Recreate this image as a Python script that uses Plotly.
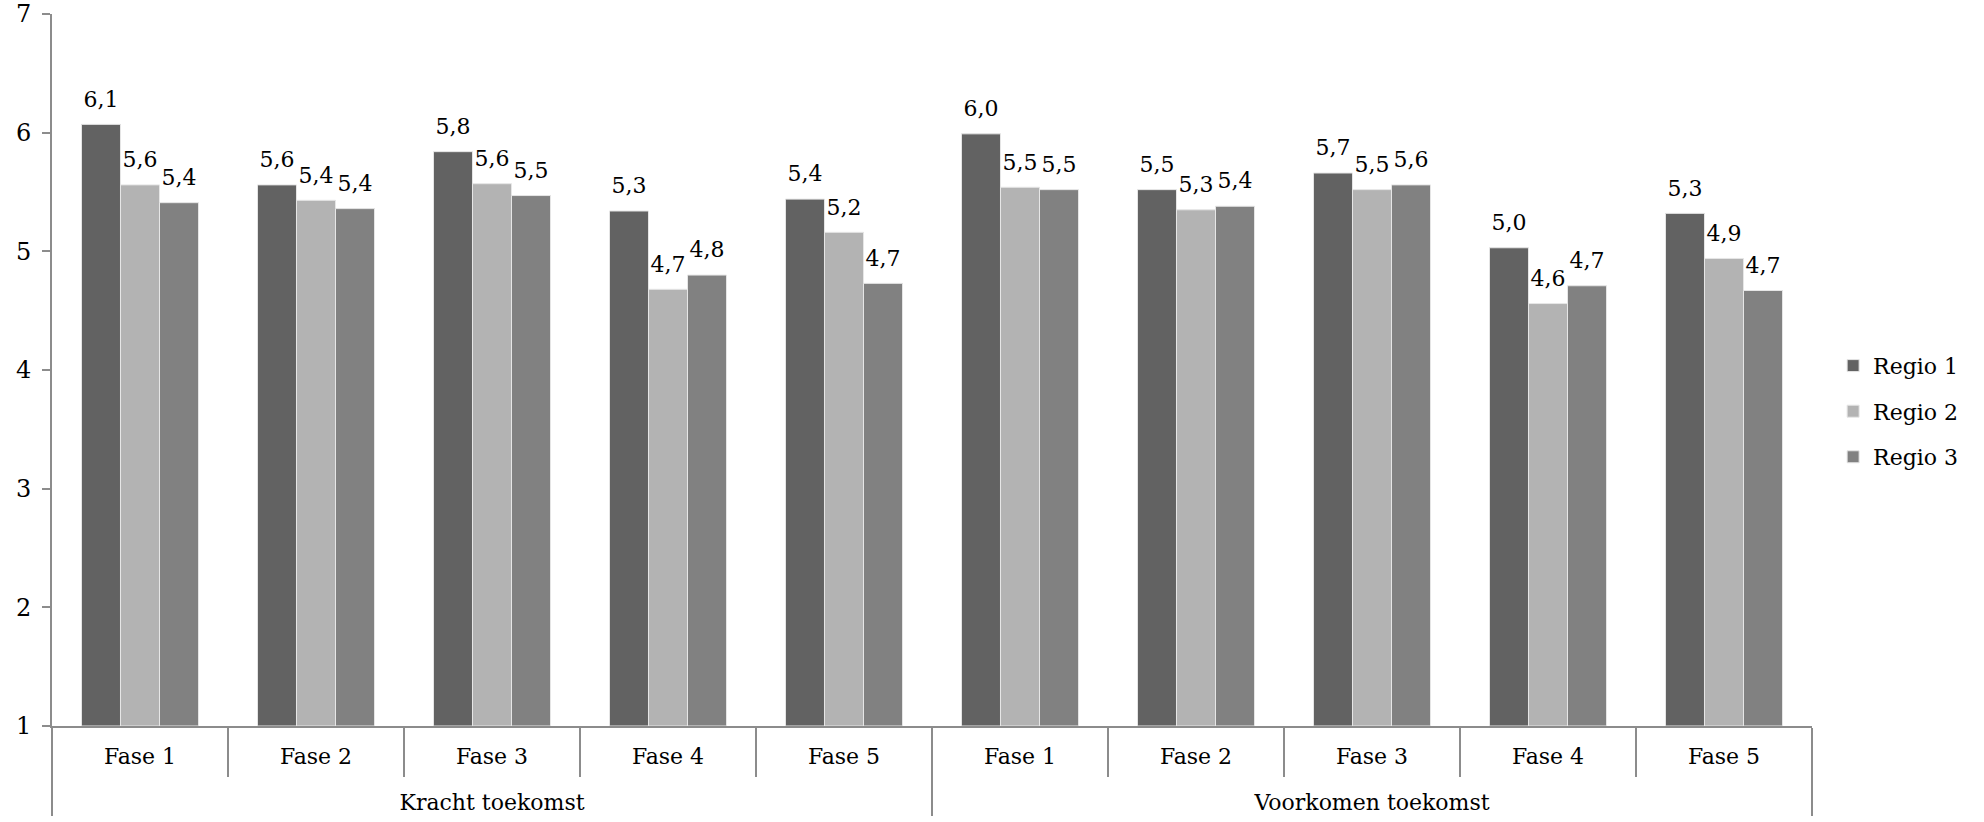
import plotly.graph_objects as go

groups = ["Kracht toekomst"] * 5 + ["Voorkomen toekomst"] * 5
phases = ["Fase 1", "Fase 2", "Fase 3", "Fase 4", "Fase 5"] * 2

regio1 = [6.07, 5.56, 5.84, 5.34, 5.44, 5.99, 5.52, 5.66, 5.03, 5.32]
regio2 = [5.56, 5.43, 5.57, 4.68, 5.16, 5.54, 5.35, 5.52, 4.56, 4.94]
regio3 = [5.41, 5.36, 5.47, 4.80, 4.73, 5.52, 5.38, 5.56, 4.71, 4.67]

series = [("Regio 1", regio1, "#626262"), ("Regio 2", regio2, "#b3b3b3"), ("Regio 3", regio3, "#818181")]

FONT = "DejaVu Serif"

# second-level labels sit one blank line lower, as in the reference
group_labels = ["<br>" + g for g in groups]

fig = go.Figure()
for i, (name, vals, col) in enumerate(series):
    fig.add_trace(go.Bar(
        x=[group_labels, phases], y=[v - 1 for v in vals], base=1, name=name,
        legendgroup=name, offsetgroup=str(i),
        marker=dict(color=col, line=dict(color="#e6e6e6", width=1)),
        hoverinfo="skip",
    ))
for i, (name, vals, col) in enumerate(series):
    fig.add_trace(go.Scatter(
        x=[group_labels, phases], y=vals, mode="markers+text",
        offsetgroup=str(i), showlegend=False, legendgroup=name,
        marker=dict(size=18, color="rgba(0,0,0,0)"),
        text=[f"{v:.1f}".replace(".", ",") for v in vals],
        textposition="top center", cliponaxis=False,
        textfont=dict(family=FONT, size=22, color="black"),
        hoverinfo="skip",
    ))

fig.update_layout(
    width=1984, height=822,
    margin=dict(l=52, r=172, t=14, b=96, autoexpand=False),
    barmode="group", bargap=0.335, bargroupgap=0,
    scattermode="group", scattergap=0.335,
    plot_bgcolor="white", paper_bgcolor="white",
    font=dict(family=FONT, size=22, color="black"),
    legend=dict(x=1.012, xanchor="left", xref="paper", y=0.442, yanchor="middle",
                font=dict(family=FONT, size=22, color="black"),
                itemwidth=30, tracegroupgap=14, bgcolor="rgba(0,0,0,0)"),
    showlegend=True,
)
fig.update_yaxes(range=[1, 7], dtick=1, tick0=1, showgrid=False, zeroline=False,
                 automargin=False, ticklabelstandoff=6,
                 showline=True, linecolor="#8c8c8c", linewidth=2,
                 ticks="outside", ticklen=8, tickcolor="#8c8c8c", tickwidth=2,
                 tickfont=dict(family=FONT, size=24, color="black"))
fig.update_xaxes(showgrid=False, showline=True, linecolor="#8c8c8c", linewidth=2,
                 automargin=False, ticklabelstandoff=10,
                 ticks="outside", ticklen=49, tickcolor="#8c8c8c", tickwidth=2,
                 showdividers=True, dividercolor="#8c8c8c", dividerwidth=2,
                 tickfont=dict(family=FONT, size=22, color="black"))

fig.write_html("out.html", config={"displayModeBar": False},
               post_script="document.body.style.margin='0px';")
